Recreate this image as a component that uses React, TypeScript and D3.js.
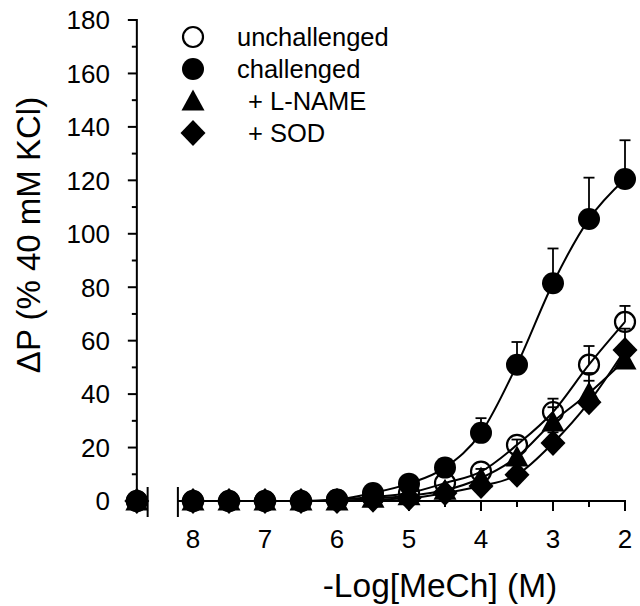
import React from "react";
import * as d3 from "d3";

// ---- data ----
const doses = [8, 7.5, 7, 6.5, 6, 5.5, 5, 4.5, 4, 3.5, 3, 2.5, 2];
const controlDose = 8.78; // "baseline" point shown at the axis break

const unchallenged = [0, 0, 0, 0, 0.5, 1.5, 3, 6.7, 11, 21, 33.3, 51, 67];
const unchallengedErr = [0, 0, 0, 0, 0, 0, 0, 0, 1, 2, 5, 7, 6];
const challenged = [0, 0, 0, 0, 0.5, 3, 6.5, 12.5, 25.5, 51, 81.5, 105.5, 120.5];
const challengedErr = [0, 0, 0, 0, 0, 0, 1, 1, 5.5, 8.5, 13, 15.5, 14.5];
const lname = [0, 0, 0, 0, 0, 1, 2, 4, 8.6, 16.5, 29.6, 40.4, 52.8];
const lnameErr = [0, 0, 0, 0, 0, 0, 0, 0, 0, 1, 5.5, 7.5, 0];
const sod = [0, 0, 0, 0, 0, 0.5, 1, 3, 5.6, 9.8, 21.7, 37, 56.5];
const sodErr = [0, 0, 0, 0, 0, 0, 0, 0, 0, 1, 4, 8, 8];

const seriesNames = ["unchallenged", "challenged", "+ L-NAME", "+ SOD"];
const yTicks = [0, 20, 40, 60, 80, 100, 120, 140, 160, 180];
const yMinorTicks = [10, 30, 50, 70, 90, 110, 130, 150, 170];
const xTicks = [8, 7, 6, 5, 4, 3, 2];
const xMinorTicks = [7.5, 6.5, 5.5, 4.5, 3.5, 2.5];

const W = 640;
const H = 606;
const FONT = "'Liberation Sans', Arial, Helvetica, sans-serif";

const xScale = d3.scaleLinear().domain([8, 2]).range([193, 625]);
const yScale = d3.scaleLinear().domain([0, 180]).range([501, 20]);

type Shape = "openCircle" | "circle" | "triangle" | "diamond";

function Marker({ shape, cx, cy }: { shape: Shape; cx: number; cy: number }) {
  if (shape === "openCircle")
    return <circle cx={cx} cy={cy} r={10} fill="none" stroke="#000" strokeWidth={2.2} />;
  if (shape === "circle") return <circle cx={cx} cy={cy} r={11} fill="#000" />;
  if (shape === "triangle")
    return (
      <path
        d={`M${cx},${cy - 11.5}L${cx + 11.5},${cy + 9.5}L${cx - 11.5},${cy + 9.5}Z`}
        fill="#000"
      />
    );
  return (
    <path
      d={`M${cx},${cy - 13}L${cx + 12.5},${cy}L${cx},${cy + 13}L${cx - 12.5},${cy}Z`}
      fill="#000"
    />
  );
}

const series: { name: string; shape: Shape; values: number[]; errs: number[] }[] = [
  { name: seriesNames[0], shape: "openCircle", values: unchallenged, errs: unchallengedErr },
  { name: seriesNames[1], shape: "circle", values: challenged, errs: challengedErr },
  { name: seriesNames[2], shape: "triangle", values: lname, errs: lnameErr },
  { name: seriesNames[3], shape: "diamond", values: sod, errs: sodErr },
];

export default function App() {
  const line = d3
    .line<[number, number]>()
    .x((d) => xScale(d[0]))
    .y((d) => yScale(d[1]))
    .curve(d3.curveMonotoneX);

  const axisY0 = yScale(0);
  const axisX = xScale(controlDose);
  const breakLeft = xScale(8.63);
  const breakRight = xScale(8.21);

  return (
    <svg
      width={W}
      height={H}
      style={{ position: "absolute", left: 0, top: 0, background: "#fff" }}
      fontFamily={FONT}
    >
      <rect x={0} y={0} width={W} height={H} fill="#fff" />
      {/* Y axis */}
      <line x1={axisX} x2={axisX} y1={yScale(180) - 1} y2={axisY0} stroke="#000" strokeWidth={2} />
      {yTicks.map((t) => (
        <g key={"yt" + t}>
          <line x1={axisX - 9} x2={axisX} y1={yScale(t)} y2={yScale(t)} stroke="#000" strokeWidth={2} />
          <text x={110} y={yScale(t)} dy="0.36em" textAnchor="end" fontSize={26}>
            {t}
          </text>
        </g>
      ))}
      {yMinorTicks.map((t) => (
        <line key={"ym" + t} x1={axisX - 5} x2={axisX} y1={yScale(t)} y2={yScale(t)} stroke="#000" strokeWidth={2} />
      ))}
      {/* X axis with break */}
      <line x1={axisX} x2={breakLeft} y1={axisY0} y2={axisY0} stroke="#000" strokeWidth={2} />
      <line x1={breakLeft} x2={breakLeft} y1={axisY0 - 14} y2={axisY0 + 16} stroke="#000" strokeWidth={2} />
      <line x1={breakRight} x2={breakRight} y1={axisY0 - 14} y2={axisY0 + 16} stroke="#000" strokeWidth={2} />
      <line x1={breakRight} x2={xScale(2) + 1} y1={axisY0} y2={axisY0} stroke="#000" strokeWidth={2} />
      {xTicks.map((t) => (
        <g key={"xt" + t}>
          <line x1={xScale(t)} x2={xScale(t)} y1={axisY0} y2={axisY0 + 10} stroke="#000" strokeWidth={2} />
          <text x={xScale(t)} y={548} textAnchor="middle" fontSize={26}>
            {t}
          </text>
        </g>
      ))}
      {xMinorTicks.map((t) => (
        <line key={"xm" + t} x1={xScale(t)} x2={xScale(t)} y1={axisY0} y2={axisY0 + 6} stroke="#000" strokeWidth={2} />
      ))}
      {/* Axis titles */}
      <text x={440} y={597} textAnchor="middle" fontSize={33.5}>
        -Log[MeCh] (M)
      </text>
      <text transform={`translate(40,235) rotate(-90)`} textAnchor="middle" fontSize={33}>
        ΔP (% 40 mM KCl)
      </text>
      {/* Curves */}
      {series.map((s) => (
        <path
          key={"c" + s.name}
          d={line(doses.map((d, i) => [d, s.values[i]] as [number, number])) || ""}
          fill="none"
          stroke="#000"
          strokeWidth={2}
        />
      ))}
      {/* Error bars */}
      {series.map((s) =>
        doses.map((d, i) =>
          s.errs[i] > 0 ? (
            <g key={"e" + s.name + d}>
              <line
                x1={xScale(d)}
                x2={xScale(d)}
                y1={yScale(s.values[i])}
                y2={yScale(s.values[i] + s.errs[i])}
                stroke="#000"
                strokeWidth={1.8}
              />
              <line
                x1={xScale(d) - 5.5}
                x2={xScale(d) + 5.5}
                y1={yScale(s.values[i] + s.errs[i])}
                y2={yScale(s.values[i] + s.errs[i])}
                stroke="#000"
                strokeWidth={1.8}
              />
            </g>
          ) : null
        )
      )}
      {/* Markers */}
      {series.map((s) => (
        <g key={"m" + s.name}>
          <Marker shape={s.shape} cx={xScale(controlDose)} cy={yScale(0)} />
          {doses.map((d, i) => (
            <Marker key={d} shape={s.shape} cx={xScale(d)} cy={yScale(s.values[i])} />
          ))}
        </g>
      ))}
      {/* Legend */}
      {series.map((s, i) => (
        <g key={"l" + s.name} transform={`translate(193,${37 + i * 32})`}>
          <Marker shape={s.shape} cx={0} cy={0} />
          <text x={i < 2 ? 44 : 55} y={0} dy="0.36em" fontSize={25.5}>
            {s.name}
          </text>
        </g>
      ))}
    </svg>
  );
}
